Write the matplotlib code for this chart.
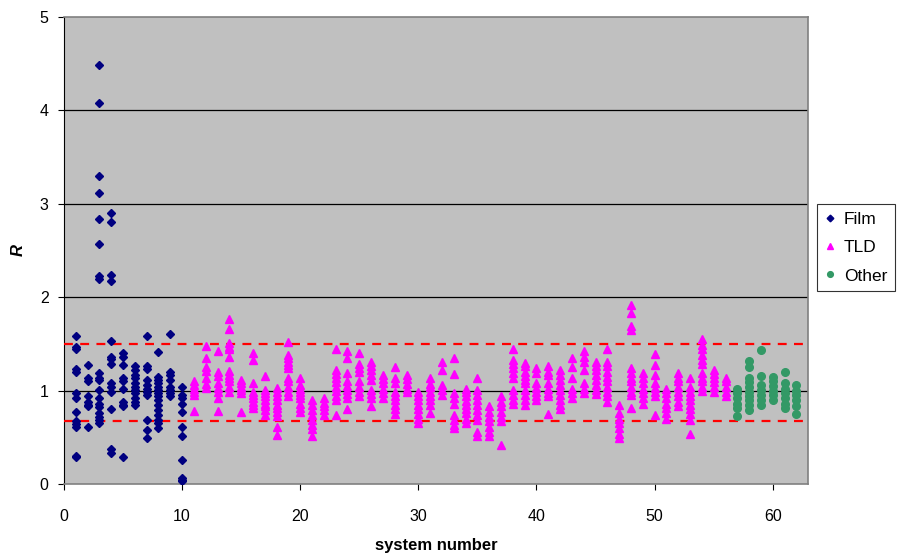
import matplotlib
matplotlib.use("Agg")
import matplotlib.pyplot as plt

plt.rcParams['font.family'] = ['Liberation Sans', 'DejaVu Sans']

# R values per system number
film_systems = list(range(1, 11))
film_R = [
    [1.58, 1.47, 1.44, 1.23, 1.20, 0.97, 0.92, 0.77, 0.67, 0.64, 0.61, 0.30, 0.29],
    [1.27, 1.14, 1.10, 0.94, 0.88, 0.85, 0.83, 0.61],
    [4.49, 4.08, 3.30, 3.12, 2.84, 2.57, 2.23, 2.20, 1.19, 1.13, 1.11, 1.01, 0.92,
     0.86, 0.82, 0.76, 0.72, 0.69, 0.65],
    [2.90, 2.81, 2.24, 2.17, 1.53, 1.36, 1.34, 1.28, 1.08, 1.04, 0.98, 0.80, 0.38, 0.33],
    [1.40, 1.36, 1.27, 1.13, 1.10, 1.02, 0.88, 0.85, 0.83, 0.29],
    [1.26, 1.22, 1.17, 1.13, 1.08, 1.04, 1.01, 0.97, 0.92, 0.88, 0.85],
    [1.58, 1.26, 1.23, 1.11, 1.06, 1.02, 0.99, 0.95, 0.69, 0.58, 0.49],
    [1.41, 1.15, 1.11, 1.08, 1.04, 1.01, 0.97, 0.94, 0.90, 0.85, 0.79, 0.74, 0.69, 0.65, 0.60],
    [1.61, 1.20, 1.17, 1.11, 1.04, 1.01, 0.97, 0.94],
    [1.04, 0.95, 0.92, 0.86, 0.77, 0.61, 0.51, 0.26, 0.06, 0.04, 0.03],
]

tld_systems = list(range(11, 57))
tld_R = [
    [1.10, 1.06, 1.02, 0.99, 0.95, 0.78],
    [1.48, 1.35, 1.25, 1.21, 1.13, 1.07, 1.03],
    [1.42, 1.20, 1.16, 1.08, 1.03, 0.99, 0.92, 0.78],
    [1.77, 1.66, 1.51, 1.47, 1.44, 1.36, 1.21, 1.17, 1.13, 1.10, 1.04, 0.99],
    [1.11, 1.08, 1.04, 1.01, 0.97, 0.77],
    [1.40, 1.33, 1.08, 0.99, 0.95, 0.92, 0.88, 0.85, 0.81],
    [1.16, 1.01, 0.97, 0.94, 0.90, 0.86, 0.83, 0.79, 0.74],
    [1.03, 0.99, 0.94, 0.90, 0.85, 0.81, 0.77, 0.73, 0.61, 0.53],
    [1.52, 1.38, 1.35, 1.31, 1.27, 1.24, 1.14, 1.10, 1.04, 0.99, 0.94],
    [1.14, 1.06, 1.02, 0.99, 0.95, 0.92, 0.86, 0.81, 0.77],
    [0.90, 0.85, 0.79, 0.74, 0.69, 0.63, 0.59, 0.51],
    [0.92, 0.87, 0.83, 0.79, 0.74],
    [1.45, 1.22, 1.18, 1.13, 1.09, 1.04, 1.00, 0.94, 0.90, 0.74],
    [1.42, 1.35, 1.19, 1.10, 1.05, 1.01, 0.96, 0.92, 0.80],
    [1.40, 1.29, 1.24, 1.20, 1.10, 1.04, 0.99, 0.94],
    [1.31, 1.26, 1.22, 1.17, 1.11, 1.01, 0.96, 0.92, 0.83],
    [1.17, 1.12, 1.08, 1.02, 0.97, 0.92],
    [1.25, 1.13, 1.08, 0.99, 0.94, 0.90, 0.85, 0.80, 0.75],
    [1.17, 1.12, 1.07, 1.02, 0.98],
    [0.99, 0.94, 0.90, 0.85, 0.80, 0.75, 0.70, 0.65],
    [1.14, 1.07, 1.04, 0.99, 0.94, 0.90, 0.85, 0.76],
    [1.31, 1.22, 1.06, 1.01, 0.95],
    [1.35, 1.18, 0.97, 0.92, 0.86, 0.74, 0.69, 0.63, 0.60],
    [1.02, 0.98, 0.94, 0.89, 0.85, 0.80, 0.76, 0.70, 0.65],
    [1.14, 1.01, 0.95, 0.90, 0.85, 0.79, 0.74, 0.69, 0.56, 0.51],
    [0.83, 0.77, 0.72, 0.67, 0.61, 0.56, 0.51],
    [0.94, 0.88, 0.83, 0.77, 0.72, 0.67, 0.42],
    [1.44, 1.33, 1.29, 1.24, 1.19, 1.14, 1.01, 0.95, 0.90, 0.86],
    [1.30, 1.26, 1.20, 1.16, 1.11, 1.08, 1.01, 0.95, 0.90, 0.85],
    [1.24, 1.19, 1.08, 1.03, 0.99, 0.94, 0.90],
    [1.26, 1.20, 1.17, 1.08, 1.02, 0.97, 0.94, 0.75],
    [1.22, 1.17, 1.11, 1.06, 1.01, 0.95, 0.90, 0.85, 0.80],
    [1.35, 1.25, 1.14, 1.02, 0.97, 0.92],
    [1.42, 1.36, 1.31, 1.22, 1.08, 1.02, 0.97],
    [1.31, 1.26, 1.22, 1.17, 1.11, 1.06, 1.01, 0.96],
    [1.44, 1.31, 1.26, 1.20, 1.15, 1.10, 1.04, 0.99, 0.94, 0.88],
    [0.85, 0.76, 0.70, 0.65, 0.60, 0.54, 0.49],
    [1.92, 1.83, 1.69, 1.65, 1.24, 1.19, 1.14, 1.10, 1.04, 0.99, 0.95, 0.81],
    [1.19, 1.13, 1.08, 1.02, 0.97, 0.92, 0.86],
    [1.39, 1.27, 1.17, 1.08, 1.03, 0.99, 0.94, 0.74],
    [1.02, 0.97, 0.92, 0.86, 0.81, 0.76, 0.70],
    [1.19, 1.14, 1.10, 1.04, 0.99, 0.94, 0.88, 0.84],
    [1.13, 1.04, 0.99, 0.94, 0.90, 0.85, 0.80, 0.75, 0.69, 0.54],
    [1.55, 1.49, 1.44, 1.38, 1.33, 1.29, 1.19, 1.14, 1.10, 1.04, 1.00],
    [1.22, 1.18, 1.13, 1.09, 1.04, 0.99],
    [1.14, 1.10, 1.04, 0.99, 0.94],
]

other_systems = list(range(57, 63))
other_R = [
    [1.02, 0.97, 0.92, 0.86, 0.81, 0.73],
    [1.32, 1.25, 1.14, 1.09, 1.04, 0.99, 0.94, 0.90, 0.85, 0.79],
    [1.43, 1.16, 1.06, 1.01, 0.95, 0.90, 0.85],
    [1.15, 1.10, 1.05, 1.00, 0.95, 0.90],
    [1.20, 1.08, 1.02, 0.97, 0.92, 0.86, 0.81],
    [1.06, 1.00, 0.95, 0.90, 0.84, 0.75],
]

limits = [1.5, 0.67]


def flatten(systems, values):
    xs, ys = [], []
    for s, vals in zip(systems, values):
        for v in vals:
            xs.append(s)
            ys.append(v)
    return xs, ys


fig = plt.figure(figsize=(9.01, 5.58), dpi=100)
ax = fig.add_axes([0.071, 0.1326, 0.826, 0.837])
ax.set_facecolor('#C0C0C0')

for y in [1, 2, 3, 4]:
    ax.axhline(y, color='black', lw=0.9, zorder=1)
for y in limits:
    ax.axhline(y, color='#FF0000', lw=1.6, linestyle=(0, (4, 3.3)), zorder=3)

x, y = flatten(film_systems, film_R)
ax.plot(x, y, 'D', color='#000080', markersize=4.5, label='Film', zorder=4)
x, y = flatten(tld_systems, tld_R)
ax.plot(x, y, '^', color='#FF00FF', markersize=6, label='TLD', zorder=4)
x, y = flatten(other_systems, other_R)
ax.plot(x, y, 'o', color='#339966', markersize=5.5, label='Other', zorder=4)

ax.set_xlim(0, 63)
ax.set_ylim(0, 5)
ax.set_xticks([0, 10, 20, 30, 40, 50, 60])
ax.set_yticks([0, 1, 2, 3, 4, 5])
ax.tick_params(labelsize=11.5, direction='out', length=4, width=0.8)
ax.tick_params(axis='x', pad=14)
ax.tick_params(axis='y', pad=7)

for side in ['top', 'right']:
    ax.spines[side].set_color('#808080')
    ax.spines[side].set_linewidth(1.2)
ax.spines['left'].set_color('black')
ax.spines['bottom'].set_color('#808080')
ax.spines['bottom'].set_linewidth(1.2)

ax.set_xlabel('system number', fontsize=12, fontweight='bold', va='center')
ax.xaxis.set_label_coords(0.5, -0.131)
ax.set_ylabel('R', fontsize=12, fontweight='bold', style='italic', va='center')
ax.yaxis.set_label_coords(-0.062, 0.5)

leg = fig.legend(loc='upper left', bbox_to_anchor=(0.907, 0.634), fontsize=12.5,
                 frameon=True, fancybox=False, edgecolor='black',
                 handlelength=0.6, handletextpad=0.5, borderpad=0.45,
                 labelspacing=0.75, borderaxespad=0, markerscale=0.75)
leg.get_frame().set_linewidth(0.8)

fig.savefig('out.png', dpi=100)
